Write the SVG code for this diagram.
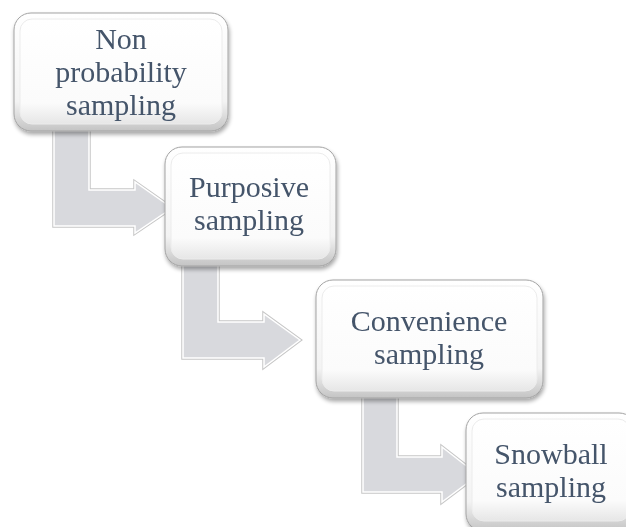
<svg xmlns="http://www.w3.org/2000/svg" xmlns:xlink="http://www.w3.org/1999/xlink" width="626" height="527" viewBox="0 0 626 527">
  <defs>
    <linearGradient id="rim" x1="0" y1="0" x2="0" y2="1">
      <stop offset="0" stop-color="#ffffff"/>
      <stop offset="0.75" stop-color="#f3f3f3"/>
      <stop offset="1" stop-color="#c4c4c4"/>
    </linearGradient>
    <linearGradient id="face" x1="0" y1="0" x2="0" y2="1">
      <stop offset="0" stop-color="#ffffff"/>
      <stop offset="0.8" stop-color="#fbfbfb"/>
      <stop offset="1" stop-color="#e6e6e6"/>
    </linearGradient>
    <filter id="shadow" x="-10%" y="-10%" width="125%" height="130%">
      <feGaussianBlur in="SourceAlpha" stdDeviation="2"/>
      <feOffset dx="1" dy="3" result="b"/>
      <feComponentTransfer><feFuncA type="linear" slope="0.35"/></feComponentTransfer>
      <feMerge><feMergeNode/><feMergeNode in="SourceGraphic"/></feMerge>
    </filter>
  </defs>
  <style>
    .rim { fill: url(#rim); stroke: #a3a3a3; stroke-width: 1; }
    .face { fill: url(#face); stroke: #ececec; stroke-width: 1; }
    .lbl { font-family: "Liberation Serif", "Times New Roman", serif; font-size: 30px; fill: #44546a; text-anchor: middle; }
    .arrow-out { fill: none; stroke: #c6c6c6; stroke-width: 3.5; stroke-linejoin: miter; }
    .arrow { fill: #d8d9dd; stroke: #ffffff; stroke-width: 1.5; stroke-linejoin: miter; }
  </style>

  <g id="connectors">
    <path class="arrow-out" d="M54,125 L89,125 L89,190 L135,190 L135,182 L172,208 L135,233 L135,226 L54,226 Z"/>
    <path class="arrow" d="M54,125 L89,125 L89,190 L135,190 L135,182 L172,208 L135,233 L135,226 L54,226 Z"/>
    <path class="arrow-out" d="M183,258 L218,258 L218,322 L264,322 L264,314 L300,340 L264,367 L264,358 L183,358 Z"/>
    <path class="arrow" d="M183,258 L218,258 L218,322 L264,322 L264,314 L300,340 L264,367 L264,358 L183,358 Z"/>
    <path class="arrow-out" d="M363,392 L397,392 L397,457 L442,457 L442,447 L478,475 L442,502 L442,492 L363,492 Z"/>
    <path class="arrow" d="M363,392 L397,392 L397,457 L442,457 L442,447 L478,475 L442,502 L442,492 L363,492 Z"/>
  </g>

  <g id="node1" filter="url(#shadow)">
    <rect class="rim" x="14" y="13" width="214" height="118" rx="17"/>
    <rect class="face" x="20" y="19" width="202" height="105" rx="12"/>
    <text class="lbl" x="121" y="49">Non</text>
    <text class="lbl" x="121" y="82">probability</text>
    <text class="lbl" x="121" y="115">sampling</text>
  </g>

  <g id="node2" filter="url(#shadow)">
    <rect class="rim" x="165" y="147" width="171" height="119" rx="17"/>
    <rect class="face" x="171" y="153" width="159" height="106" rx="12"/>
    <text class="lbl" x="249" y="197">Purposive</text>
    <text class="lbl" x="249" y="230">sampling</text>
  </g>

  <g id="node3" filter="url(#shadow)">
    <rect class="rim" x="316" y="280" width="227" height="118" rx="17"/>
    <rect class="face" x="322" y="286" width="215" height="105" rx="12"/>
    <text class="lbl" x="429" y="331">Convenience</text>
    <text class="lbl" x="429" y="364">sampling</text>
  </g>

  <g id="node4" filter="url(#shadow)">
    <rect class="rim" x="466" y="413" width="170" height="118" rx="17"/>
    <rect class="face" x="472" y="419" width="158" height="102" rx="12"/>
    <text class="lbl" x="551" y="464">Snowball</text>
    <text class="lbl" x="551" y="497">sampling</text>
  </g>
</svg>
